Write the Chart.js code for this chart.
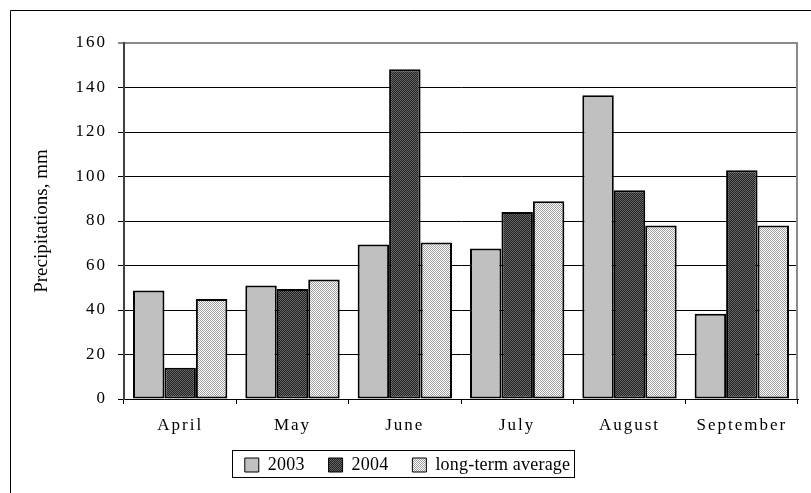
<!DOCTYPE html>
<html>
<head>
<meta charset="utf-8">
<script src="https://cdn.jsdelivr.net/npm/chart.js@4/dist/chart.umd.min.js"></script>
<style>
  html, body { margin: 0; padding: 0; background: #fff; }
  #wrap { width: 811px; height: 493px; position: relative; }
</style>
</head>
<body>
<div id="wrap"><canvas id="chart" width="811" height="493"></canvas></div>
<script>
// data
var CATEGORIES = ['April', 'May', 'June', 'July', 'August', 'September'];
var SERIES_NAMES = ['2003', '2004', 'long-term average'];
var VALUES_2003 = [48.8, 51, 69.4, 67.6, 136.5, 38.3];
var VALUES_2004 = [14.1, 49.4, 148.2, 84.1, 93.8, 102.8];
var VALUES_AVG = [44.9, 53.7, 70.3, 88.9, 78, 78];
var Y_MIN = 0, Y_MAX = 160, Y_STEP = 20;
var Y_TITLE = 'Precipitations, mm';

var SERIF = '"Liberation Serif", "Times New Roman", serif';

function $(id) { return document.getElementById(id); }

// small checker tiles, like the old excel fill patterns
function makePattern(a, b) {
  var c = document.createElement('canvas');
  c.width = 2; c.height = 2;
  var x = c.getContext('2d');
  x.fillStyle = a; x.fillRect(0, 0, 2, 2);
  x.fillStyle = b; x.fillRect(0, 0, 1, 1); x.fillRect(1, 1, 1, 1);
  return x.createPattern(c, 'repeat');
}

var ctx = $('chart').getContext('2d');
var darkFill = makePattern('#222222', '#666666');
var lightFill = makePattern('#ffffff', '#a0a0a0');

// wrap a draw/fit method so its text gets some letter spacing
function spaced(obj, name, sp, after) {
  if (!obj || obj['_sp_' + name]) return;
  var orig = obj[name];
  obj['_sp_' + name] = true;
  obj[name] = function () {
    var c = this.ctx || ctx;
    var old = c.letterSpacing;
    c.letterSpacing = sp;
    var r = orig.apply(this, arguments);
    c.letterSpacing = old || '0px';
    if (after) after(this);
    return r;
  };
}

var spacing = {
  id: 'spacing',
  beforeLayout: function (chart) {
    spaced(chart.scales.x, 'drawLabels', '2px');
    spaced(chart.scales.y, 'drawLabels', '2px');
    spaced(chart.legend, 'fit', '0.2px', function (lg) { lg.height = 45; });
    spaced(chart.legend, 'draw', '0.2px');
  },
  afterLayout: function (chart) {
    // legend sits a little left of the plot centre in the original, and higher
    var lg = chart.legend;
    if (lg) {
      lg.left -= 7; lg.right -= 7;
      lg.top -= 7; lg.bottom -= 7;
    }
  }
};

var frames = {
  id: 'frames',
  afterDraw: function (chart) {
    var c = chart.ctx, a = chart.chartArea;
    c.save();
    // outer frame (cut off on the right and bottom)
    c.strokeStyle = '#000';
    c.lineWidth = 1;
    c.beginPath();
    c.moveTo(10.5, 493); c.lineTo(10.5, 10.5); c.lineTo(811, 10.5);
    c.stroke();
    // plot area right edge
    c.strokeStyle = '#8a8a8a';
    c.lineWidth = 2;
    c.beginPath();
    c.moveTo(a.right - 1, a.top); c.lineTo(a.right - 1, a.bottom);
    c.stroke();
    // legend box
    var lg = chart.legend;
    if (lg && lg.legendHitBoxes && lg.legendHitBoxes.length) {
      var hb = lg.legendHitBoxes;
      var l = hb[0].left, r = hb[hb.length - 1].left + hb[hb.length - 1].width;
      var t = hb[0].top, h = hb[0].height;
      c.strokeStyle = '#000';
      c.lineWidth = 1;
      c.strokeRect(Math.round(l) - 12.5, Math.round(t) - 5.5, Math.round(r - l) + 17, Math.round(h) + 9);
    }
    c.restore();
  }
};

var chart = new Chart(ctx, {
  type: 'bar',
  data: {
    labels: CATEGORIES,
    datasets: [
      { label: SERIES_NAMES[0], data: VALUES_2003, backgroundColor: '#c0c0c0' },
      { label: SERIES_NAMES[1], data: VALUES_2004, backgroundColor: darkFill },
      { label: SERIES_NAMES[2], data: VALUES_AVG, backgroundColor: lightFill }
    ]
  },
  options: {
    responsive: false,
    animation: false,
    devicePixelRatio: 1,
    layout: { padding: { left: 31, top: 43, right: 13, bottom: 9 } },
    datasets: {
      bar: {
        borderColor: '#000',
        borderWidth: 2,
        borderSkipped: false,
        categoryPercentage: 0.84,
        barPercentage: 1.0
      }
    },
    plugins: {
      tooltip: { enabled: false },
      legend: {
        position: 'bottom',
        labels: {
          color: '#000',
          font: { family: SERIF, size: 18 },
          boxWidth: 14,
          boxHeight: 14,
          padding: 24,
          generateLabels: function (ch) {
            return ch.data.datasets.map(function (ds, i) {
              return {
                text: ds.label,
                fillStyle: ds.backgroundColor,
                strokeStyle: '#000',
                lineWidth: 1,
                datasetIndex: i,
                hidden: false,
                fontColor: '#000'
              };
            });
          }
        }
      }
    },
    scales: {
      x: {
        grid: { display: true, drawOnChartArea: false, color: '#000', tickLength: 5 },
        border: { color: '#000', width: 1 },
        ticks: { color: '#000', font: { family: SERIF, size: 17 }, padding: 11, maxRotation: 0 },
        afterFit: function (s) { s.height = 40; }
      },
      y: {
        min: Y_MIN,
        max: Y_MAX,
        ticks: { stepSize: Y_STEP, color: '#000', font: { family: SERIF, size: 17 }, padding: 11 },
        grid: {
          color: function (c) { return c.tick && c.tick.value === Y_MAX ? '#8a8a8a' : '#000'; },
          lineWidth: function (c) { return c.tick && c.tick.value === Y_MAX ? 2 : 1; },
          tickLength: 6
        },
        border: { color: '#404040', width: 2 },
        title: {
          display: true,
          text: Y_TITLE,
          color: '#000',
          font: { family: SERIF, size: 19 },
          padding: 0
        },
        afterFit: function (s) { s.width = 93; }
      }
    }
  },
  plugins: [spacing, frames]
});
</script>
</body>
</html>
